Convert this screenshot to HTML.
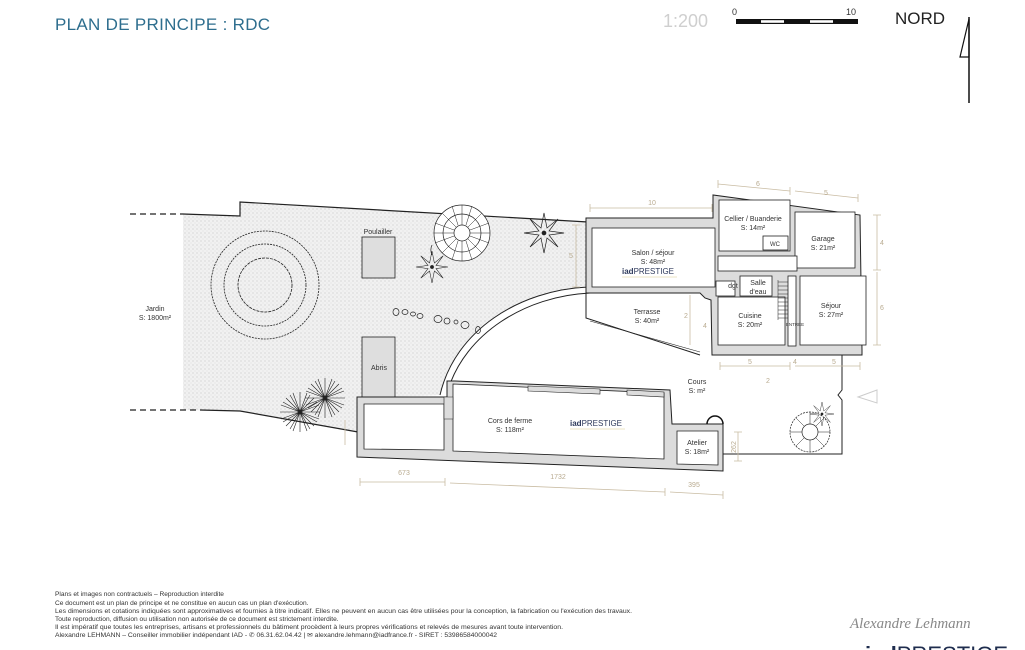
<!DOCTYPE html>
<html><head><meta charset="utf-8"><style>
html,body{margin:0;padding:0;background:#fff;}
svg{display:block;font-family:"Liberation Sans",sans-serif;}
</style></head><body>
<svg width="1025" height="650" viewBox="0 0 1025 650" xmlns="http://www.w3.org/2000/svg">
<defs>
<pattern id="dots" width="4" height="4" patternUnits="userSpaceOnUse">
<rect width="4" height="4" fill="#f1f1f1"/>
<circle cx="1" cy="1" r="0.6" fill="#c8c8c8"/>
<circle cx="3" cy="3" r="0.5" fill="#d4d4d4"/>
</pattern>
<g id="star">
<path d="M0,-20L3,-5L14,-14L5,-2L20,0L5,2L14,14L3,5L0,20L-3,5L-14,14L-5,2L-20,0L-5,-2L-14,-14L-3,-5Z" fill="none" stroke="#222" stroke-width="0.7"/>
<circle r="2" fill="#222"/>
</g>
<g id="burst" stroke="#222" stroke-width="0.6">
<path d="M0,-20V20M-20,0H20M-14,-14L14,14M14,-14L-14,14M-7,-19L7,19M7,-19L-7,19M-19,-7L19,7M19,-7L-19,7M-10,-17L10,17M10,-17L-10,17M-17,-10L17,10M17,-10L-17,10"/>
<circle r="1.5" fill="#222"/>
</g>
</defs>

<!-- header -->
<text x="55" y="30" font-size="17" fill="#2e6e8e" letter-spacing="0.3">PLAN DE PRINCIPE : RDC</text>
<text x="663" y="27" font-size="18" fill="#cfcfcf">1:200</text>
<rect x="736" y="19" width="122" height="5" fill="#111"/>
<rect x="761" y="20.2" width="23" height="2.6" fill="#fff"/>
<rect x="810" y="20.2" width="23" height="2.6" fill="#fff"/>
<text x="732" y="15" font-size="9" fill="#333">0</text>
<text x="846" y="15" font-size="9" fill="#333">10</text>
<text x="895" y="24" font-size="17" fill="#222">NORD</text>
<line x1="969" y1="17" x2="969" y2="103" stroke="#111" stroke-width="1.5"/>
<polygon points="969,19 960,57 969,57" fill="none" stroke="#111" stroke-width="1.2"/>

<!-- garden -->
<path d="M183,214 L240,216 L240,202 L588,222 L588,287 C520,290 455,330 440,395 L360,398 L358,432 L240,411 L183,410 Z" fill="url(#dots)"/>
<path d="M130,214 L183,214" stroke="#222" stroke-dasharray="6,4" stroke-width="1.2"/>
<path d="M183,214 L240,216 L240,202 L588,222" fill="none" stroke="#222" stroke-width="1.2"/>
<path d="M130,410 L200,410" stroke="#222" stroke-dasharray="6,4" stroke-width="1.2"/>
<path d="M200,410 L240,411 L358,432" fill="none" stroke="#222" stroke-width="1.2"/>
<path d="M588,287 C520,290 455,330 440,395" fill="none" stroke="#222" stroke-width="1"/>
<path d="M590,293 C525,296 465,334 448,390" fill="none" stroke="#222" stroke-width="1"/>
<text x="155" y="311" font-size="7" text-anchor="middle" fill="#333">Jardin</text>
<text x="155" y="320" font-size="7" text-anchor="middle" fill="#333">S: 1800m²</text>

<!-- big tree -->
<g fill="none" stroke="#222" stroke-width="0.8">
<circle cx="265" cy="285" r="54" stroke-dasharray="2,1"/>
<circle cx="265" cy="285" r="41" stroke-dasharray="2,1"/>
<circle cx="265" cy="285" r="27" stroke-dasharray="3,1"/>
</g>

<!-- sheds -->
<rect x="362" y="237" width="33" height="41" fill="#dedede" stroke="#222" stroke-width="0.8"/>
<text x="378" y="234" font-size="7" text-anchor="middle" fill="#333">Poulailler</text>
<rect x="362" y="337" width="33" height="62" fill="#dedede" stroke="#222" stroke-width="0.8"/>
<text x="379" y="370" font-size="7" text-anchor="middle" fill="#333">Abris</text>

<!-- plants -->
<g fill="none" stroke="#222" stroke-width="0.7">
<circle cx="462" cy="233" r="28" fill="#fff"/>
<circle cx="462" cy="233" r="19"/>
<circle cx="462" cy="233" r="8"/>
<g stroke-width="0.5">
<path d="M462,205V225M462,241V261M434,233H454M470,233H490M442,213L456,227M468,239L482,253M482,213L468,227M456,239L442,253M452,206L458,225M472,206L466,225M452,260L458,241M472,260L466,241M435,223L454,230M435,243L454,236M489,223L470,230M489,243L470,236"/>
</g>
<path d="M432,245 a12,12 0 0 0 0,10" />
<use href="#star" x="432" y="267" transform="translate(432 267) scale(0.8) translate(-432 -267)"/>
<use href="#star" x="544" y="233"/>
<use href="#burst" x="325" y="398"/>
<use href="#burst" x="300" y="412"/>
<circle cx="810" cy="432" r="20" fill="#fff" stroke-dasharray="2,1"/>
<circle cx="810" cy="432" r="8"/>
<path d="M810,412V424M810,440V452M790,432H802M818,432H830M796,418L804,426M816,438L824,446M824,418L816,426M804,438L796,446" stroke-width="0.5"/>
<use href="#star" x="822" y="414" transform="translate(822 414) scale(0.6) translate(-822 -414)"/>
<g>
<ellipse cx="396" cy="312" rx="3" ry="3.5"/><ellipse cx="405" cy="312" rx="3" ry="2.5"/>
<ellipse cx="413" cy="314" rx="2.5" ry="2"/><ellipse cx="420" cy="316" rx="3" ry="2.5"/>
<ellipse cx="438" cy="319" rx="4" ry="3.5"/><ellipse cx="447" cy="321" rx="3" ry="3"/>
<ellipse cx="456" cy="322" rx="2" ry="2"/><ellipse cx="465" cy="325" rx="4" ry="3.5"/>
<ellipse cx="478" cy="330" rx="2.5" ry="3.5"/>
</g>
</g>

<!-- Cors de ferme -->
<polygon points="357,397 447,397 447,381 455,381 670,390 672,424 723,424 723,471 357,457" fill="#dcdcdc" stroke="#222" stroke-width="1"/>
<polygon points="364,404 444,404 444,450 364,449" fill="#fff" stroke="#222" stroke-width="0.8"/>
<polygon points="453,384 664,393 664,459 453,451" fill="#fff" stroke="#222" stroke-width="0.8"/>
<polygon points="528,386 600,389 600,394 528,391" fill="#dcdcdc" stroke="#222" stroke-width="0.6"/>
<polygon points="627,390 664,392 664,397 627,395" fill="#dcdcdc" stroke="#222" stroke-width="0.6"/>
<polygon points="444,397 453,397 453,419 444,419" fill="#dcdcdc" stroke="#222" stroke-width="0.6"/>
<polygon points="677,431 718,431 718,465 677,464" fill="#fff" stroke="#222" stroke-width="0.8"/>
<path d="M707,424 a8,8 0 0 1 16,0" fill="none" stroke="#111" stroke-width="1.5"/>
<text x="510" y="423" font-size="7" text-anchor="middle" fill="#333">Cors de ferme</text>
<text x="510" y="432" font-size="7" text-anchor="middle" fill="#333">S: 118m²</text>
<text x="570" y="426" font-size="8" fill="#2e3a5c"><tspan font-weight="bold">iad</tspan>PRESTIGE</text>
<line x1="570" y1="429" x2="625" y2="429" stroke="#d8c88a" stroke-width="0.5"/>
<text x="697" y="445" font-size="7" text-anchor="middle" fill="#333">Atelier</text>
<text x="697" y="454" font-size="7" text-anchor="middle" fill="#333">S: 18m²</text>

<!-- house -->
<polygon points="586,218 713,218 713,195 860,215 862,350 862,355 712,355 711,300 705,298 700,293 586,293" fill="#dcdcdc" stroke="#222" stroke-width="1"/>
<g fill="#fff" stroke="#222" stroke-width="0.8">
<rect x="592" y="228" width="123" height="59"/>
<rect x="719" y="200" width="71" height="51"/>
<rect x="795" y="212" width="60" height="56"/>
<rect x="800" y="276" width="66" height="69"/>
<rect x="718" y="297" width="67" height="48"/>
<rect x="718" y="256" width="79" height="15"/>
<rect x="716" y="281" width="19" height="15"/>
<rect x="740" y="276" width="32" height="20"/>
<rect x="788" y="276" width="8" height="70"/>
<rect x="763" y="236" width="25" height="14"/>
</g>
<g stroke="#222" stroke-width="0.5">
<path d="M778,282H788M778,286H788M778,290H788M778,294H788M778,298H788M778,302H788M778,306H788M778,310H788M778,314H788M778,318H788"/>
<line x1="778" y1="280" x2="778" y2="320"/>
</g>
<!-- terrasse -->
<path d="M586,293 L586,318 L700,355" fill="none" stroke="#222" stroke-width="1"/>
<path d="M590,321 L700,352" fill="none" stroke="#222" stroke-width="0.6"/>
<!-- yard -->
<path d="M842,355 L842,390 L838,395 L842,400 L842,454 L723,454" fill="none" stroke="#222" stroke-width="1"/>
<polygon points="877,390 877,403 858,397" fill="none" stroke="#ccc" stroke-width="1"/>

<g font-size="7" fill="#333" text-anchor="middle">
<text x="653" y="255">Salon / séjour</text><text x="653" y="264">S: 48m²</text>
<text x="753" y="221">Cellier / Buanderie</text><text x="753" y="230">S: 14m²</text>
<text x="775" y="246" font-size="6">WC</text>
<text x="823" y="241">Garage</text><text x="823" y="250">S: 21m²</text>
<text x="831" y="308">Séjour</text><text x="831" y="317">S: 27m²</text>
<text x="750" y="318">Cuisine</text><text x="750" y="327">S: 20m²</text>
<text x="733" y="288">dgt</text>
<text x="758" y="285">Salle</text><text x="758" y="294">d'eau</text>
<text x="795" y="326" font-size="4.5">ENTRÉE</text>
<text x="647" y="314">Terrasse</text><text x="647" y="323">S: 40m²</text>
<text x="697" y="384">Cours</text><text x="697" y="393">S: m²</text>
</g>
<text x="622" y="274" font-size="8" fill="#2e3a5c"><tspan font-weight="bold">iad</tspan>PRESTIGE</text>
<line x1="622" y1="277" x2="677" y2="277" stroke="#d8c88a" stroke-width="0.5"/>

<!-- dimensions -->
<g stroke="#c9bca3" stroke-width="0.8" fill="none">
<path d="M590,208H712M590,204v8M712,204v8"/>
<path d="M718,184L790,191M795,191L858,198M718,180v8M790,187v8M858,194v8"/>
<path d="M877,215V270M877,272V345M873,215h8M873,270h8M873,345h8"/>
<path d="M576,225V287M572,225h8M572,287h8"/>
<path d="M690,295V345"/>
<path d="M720,366H790M795,366H860M720,362v8M790,362v8M860,362v8"/>
<path d="M360,482H445M450,483L665,492M670,492L723,495M360,478v8M445,478v8M665,488v8M723,491v8"/>
<path d="M738,432V461M734,432h8M734,461h8"/>
<path d="M345,420V445"/>
</g>
<g font-size="7" fill="#b9ab90" text-anchor="middle">
<text x="652" y="205">10</text>
<text x="758" y="186">6</text><text x="826" y="195">5</text>
<text x="882" y="245">4</text><text x="882" y="310">6</text>
<text x="571" y="258">5</text>
<text x="686" y="318">2</text><text x="705" y="328">4</text>
<text x="750" y="364">5</text><text x="795" y="364">4</text><text x="834" y="364">5</text>
<text x="768" y="383">2</text>
<text x="404" y="475">673</text><text x="558" y="479">1732</text><text x="694" y="487">395</text>
<text x="733" y="450" transform="rotate(-90 733 447)">262</text>
</g>

<!-- footer -->
<g font-size="6.6" fill="#333">
<text x="55" y="596">Plans et images non contractuels – Reproduction interdite</text>
<text x="55" y="605">Ce document est un plan de principe et ne constitue en aucun cas un plan d'exécution.</text>
<text x="55" y="613" textLength="577" lengthAdjust="spacingAndGlyphs">Les dimensions et cotations indiquées sont approximatives et fournies à titre indicatif. Elles ne peuvent en aucun cas être utilisées pour la conception, la fabrication ou l'exécution des travaux.</text>
<text x="55" y="621">Toute reproduction, diffusion ou utilisation non autorisée de ce document est strictement interdite.</text>
<text x="55" y="629" textLength="508" lengthAdjust="spacingAndGlyphs">Il est impératif que toutes les entreprises, artisans et professionnels du bâtiment procèdent à leurs propres vérifications et relevés de mesures avant toute intervention.</text>
<text x="55" y="637" textLength="442" lengthAdjust="spacingAndGlyphs">Alexandre LEHMANN – Conseiller immobilier indépendant IAD - ✆ 06.31.62.04.42 | ✉ alexandre.lehmann@iadfrance.fr - SIRET : 53986584000042</text>
</g>
<text x="850" y="628" font-size="15" fill="#888" font-style="italic" font-family="Liberation Serif, serif">Alexandre Lehmann</text>
<text x="865" y="662" font-size="22" fill="#1f2d4e"><tspan font-weight="bold">iad</tspan>PRESTIGE</text>
</svg>
</body></html>
